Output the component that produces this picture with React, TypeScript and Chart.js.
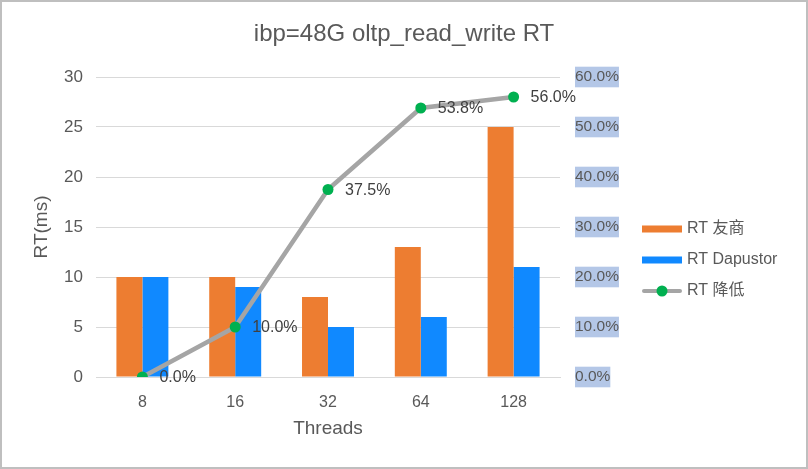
import React, { useEffect, useRef } from "react";
import { Chart, registerables } from "chart.js";

Chart.register(...registerables);

const categories = ["8", "16", "32", "64", "128"];
const rtCompetitor = [10, 10, 8, 13, 25];
const rtDapustor = [10, 9, 5, 6, 11];
const rtReduction = [0, 10, 37.5, 53.8, 56.0];
const seriesNames = ["RT 友商", "RT Dapustor", "RT 降低"];
const titleText = "ibp=48G oltp_read_write RT";
const yTitle = "RT(ms)";
const xTitle = "Threads";

const FONT = '"Liberation Sans", "Noto Sans CJK SC", sans-serif';
const ORANGE = "#ED7D31";
const BLUE = "#1089FF";
const GRAY = "#A5A5A5";
const GREEN = "#00B050";
const TEXT = "#595959";

const labelPlugin = {
  id: "lineLabels",
  afterDatasetsDraw(chart: any) {
    const ctx = chart.ctx;
    const meta = chart.getDatasetMeta(2);
    const ds = chart.data.datasets[2];
    ctx.save();
    ctx.font = `16px ${FONT}`;
    ctx.fillStyle = "#404040";
    ctx.textAlign = "left";
    ctx.textBaseline = "middle";
    meta.data.forEach((pt: any, i: number) => {
      ctx.fillText(`${Number(ds.data[i]).toFixed(1)}%`, pt.x + 17, pt.y + 1);
    });
    ctx.restore();
  },
};

const legendPlugin = {
  id: "customLegend",
  afterDraw(chart: any) {
    const ctx = chart.ctx;
    const area = chart.chartArea;
    const x0 = area.right + 82;
    const y0 = area.top + 152;
    const gap = 31;
    const dss = chart.data.datasets;
    const order = [0, 1, 2];
    ctx.save();
    ctx.font = `16px ${FONT}`;
    ctx.textAlign = "left";
    ctx.textBaseline = "middle";
    order.forEach((idx, k) => {
      const y = y0 + k * gap;
      const ds = dss[idx];
      if (ds.type === "line") {
        ctx.strokeStyle = ds.borderColor;
        ctx.lineWidth = 4;
        ctx.lineCap = "round";
        ctx.beginPath();
        ctx.moveTo(x0 + 2, y);
        ctx.lineTo(x0 + 38, y);
        ctx.stroke();
        ctx.fillStyle = ds.pointBackgroundColor;
        ctx.beginPath();
        ctx.arc(x0 + 20, y, 5.5, 0, Math.PI * 2);
        ctx.fill();
      } else {
        ctx.fillStyle = ds.backgroundColor;
        ctx.fillRect(x0, y - 3.5, 40, 7);
      }
      ctx.fillStyle = TEXT;
      ctx.fillText(ds.label, x0 + 45, y);
    });
    ctx.restore();
  },
};

export default function App() {
  const ref = useRef<HTMLCanvasElement | null>(null);
  useEffect(() => {
    if (!ref.current) return;
    const chart = new Chart(ref.current, {
      type: "bar",
      data: {
        labels: categories,
        datasets: [
          {
            type: "bar",
            label: seriesNames[0],
            data: rtCompetitor,
            backgroundColor: ORANGE,
            yAxisID: "y",
            order: 2,
            categoryPercentage: 0.56,
            barPercentage: 1,
          },
          {
            type: "bar",
            label: seriesNames[1],
            data: rtDapustor,
            backgroundColor: BLUE,
            yAxisID: "y",
            order: 3,
            categoryPercentage: 0.56,
            barPercentage: 1,
          },
          {
            type: "line",
            label: seriesNames[2],
            data: rtReduction,
            borderColor: GRAY,
            borderWidth: 4.5,
            pointBackgroundColor: GREEN,
            pointBorderColor: GREEN,
            pointBorderWidth: 0,
            pointRadius: 5.5,
            yAxisID: "y2",
            order: 1,
          } as any,
        ],
      },
      options: {
        animation: false,
        responsive: false,
        maintainAspectRatio: false,
        layout: { padding: { left: 0, right: 0, top: 0, bottom: 0 } },
        plugins: {
          legend: { display: false },
          tooltip: { enabled: false },
          title: {
            display: true,
            text: titleText,
            color: TEXT,
            font: { family: FONT, size: 24, weight: "normal" },
            padding: { top: 17.6, bottom: 28.6 },
          },
        },
        scales: {
          x: {
            grid: { display: false },
            border: { display: true, color: "#D9D9D9", width: 1 },
            ticks: { color: TEXT, font: { family: FONT, size: 16 }, padding: 8 },
            title: {
              display: true,
              text: xTitle,
              color: TEXT,
              font: { family: FONT, size: 19 },
              padding: { top: 0, bottom: 27 },
            },
            afterFit: (s: any) => {
              s.height = 90;
            },
          },
          y: {
            position: "left",
            min: 0,
            max: 30,
            ticks: { stepSize: 5, color: TEXT, font: { family: FONT, size: 17 }, padding: 13 },
            grid: { color: "#D9D9D9", drawTicks: false },
            border: { display: false },
            title: {
              display: true,
              text: yTitle,
              color: TEXT,
              font: { family: FONT, size: 19 },
              padding: { top: 28, bottom: 0 },
            },
            afterFit: (s: any) => {
              s.width = 94;
            },
          },
          y2: {
            position: "right",
            min: 0,
            max: 60,
            ticks: {
              stepSize: 10,
              color: TEXT,
              font: { family: FONT, size: 15.5 },
              padding: 15,
              callback: (v: any) => `${Number(v).toFixed(1)}%`,
              showLabelBackdrop: true,
              backdropColor: "#B4C7E7",
              backdropPadding: { top: 1, bottom: 1, left: 0, right: 0 },
            } as any,
            grid: { display: false, drawTicks: false },
            border: { display: false },
            afterFit: (s: any) => {
              s.width = 246;
            },
          },
        },
      },
      plugins: [labelPlugin, legendPlugin],
    });
    return () => chart.destroy();
  }, []);
  return (
    <div
      style={{
        position: "absolute",
        left: 0,
        top: 0,
        width: 808,
        height: 469,
        boxSizing: "border-box",
        border: "2px solid #BFBFBF",
        background: "#FFFFFF",
      }}
    >
      <canvas ref={ref} width={804} height={465} style={{ display: "block", width: 804, height: 465 }} />
    </div>
  );
}
